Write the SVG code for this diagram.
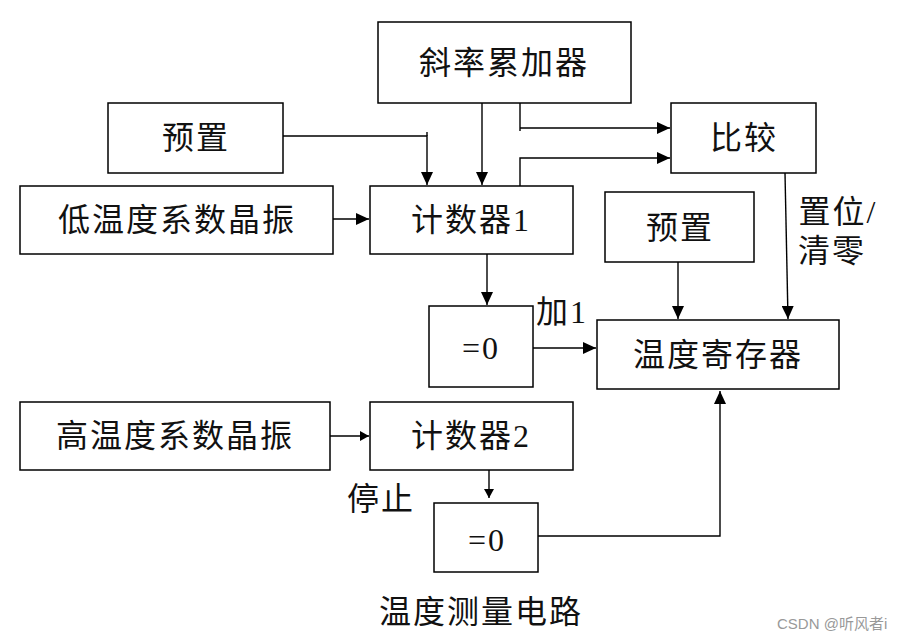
<svg xmlns="http://www.w3.org/2000/svg" width="900" height="638" viewBox="0 0 900 638">
<style>
.b{fill:#fff;stroke:#000;stroke-width:1.5}
.t{font-family:"Liberation Serif","Noto Sans CJK SC",serif;font-size:32px;fill:#111;text-anchor:middle;dominant-baseline:central;letter-spacing:2px}
.l{fill:none;stroke:#000;stroke-width:1.4}
.w{font-family:"Liberation Sans","Noto Sans CJK SC",sans-serif;font-size:15px;fill:#999}
</style>
<defs>
<marker id="a" markerUnits="userSpaceOnUse" markerWidth="14" markerHeight="12" refX="13" refY="6" orient="auto"><path d="M0,0L13,6L0,12z"/></marker>
<marker id="s" markerUnits="userSpaceOnUse" markerWidth="10" markerHeight="10" refX="9" refY="5" orient="auto"><path d="M0,0L9,5L0,10z"/></marker>
</defs>
<rect width="900" height="638" fill="#fff"/>
<g id="connectors">
<path class="l" d="M283,136H427V185" marker-end="url(#a)"/>
<path class="l" d="M427,132V136"/>
<path class="l" d="M482,103V185" marker-end="url(#a)"/>
<path class="l" d="M520,103V131M520,128H670" marker-end="url(#a)"/>
<path class="l" d="M520,186V158H670" marker-end="url(#a)"/>
<path class="l" d="M785,173L788,319" marker-end="url(#a)"/>
<path class="l" d="M678,262V319" marker-end="url(#a)"/>
<path class="l" d="M487,254V305" marker-end="url(#a)"/>
<path class="l" d="M533,348H596" marker-end="url(#a)"/>
<path class="l" d="M333,219H369" marker-end="url(#a)"/>
<path class="l" d="M330,436H369" marker-end="url(#s)"/>
<path class="l" d="M489,470V498" marker-end="url(#s)"/>
<path class="l" d="M538,536H720V391" marker-end="url(#a)"/>
</g>
<g id="slope"><rect class="b" x="378" y="22" width="253" height="81"/><text class="t" x="504" y="63">斜率累加器</text></g>
<g id="preset1"><rect class="b" x="108" y="103" width="175" height="70"/><text class="t" x="196" y="138">预置</text></g>
<g id="lowosc"><rect class="b" x="20" y="186" width="313" height="68"/><text class="t" x="177" y="220">低温度系数晶振</text></g>
<g id="counter1"><rect class="b" x="370" y="186" width="203" height="68"/><text class="t" x="471" y="220">计数器1</text></g>
<g id="compare"><rect class="b" x="671" y="103" width="145" height="70"/><text class="t" x="744" y="138">比较</text></g>
<g id="preset2"><rect class="b" x="605" y="192" width="149" height="70"/><text class="t" x="680" y="228">预置</text></g>
<g id="zero1"><rect class="b" x="429" y="306" width="104" height="81"/><text class="t" x="481" y="348">=0</text></g>
<g id="tempreg"><rect class="b" x="597" y="320" width="242" height="69"/><text class="t" x="718" y="355">温度寄存器</text></g>
<g id="highosc"><rect class="b" x="20" y="402" width="310" height="68"/><text class="t" x="175" y="436">高温度系数晶振</text></g>
<g id="counter2"><rect class="b" x="370" y="402" width="203" height="68"/><text class="t" x="471" y="436">计数器2</text></g>
<g id="zero2"><rect class="b" x="434" y="503" width="104" height="69"/><text class="t" x="487" y="540">=0</text></g>
<g id="labels">
<text class="t" x="562" y="312">加1</text>
<text class="t" x="381" y="499">停止</text>
<text class="t" x="838" y="212">置位/</text>
<text class="t" x="832" y="251">清零</text>
<text class="t" x="481" y="612">温度测量电路</text>
<text class="w" x="777" y="629">CSDN @听风者i</text>
</g>
</svg>
